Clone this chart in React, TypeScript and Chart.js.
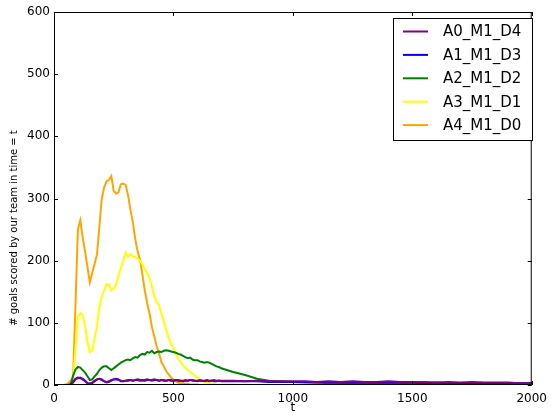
import React, { useEffect, useRef } from "react";
import { Chart, registerables } from "chart.js";

Chart.register(...registerables);

const T = [
  0, 10, 20, 30, 40, 50, 60, 70, 80, 90,
  100, 110, 120, 130, 140, 150, 160, 170, 180, 190,
  200, 210, 220, 230, 240, 250, 260, 270, 280, 290,
  300, 310, 320, 330, 340, 350, 360, 370, 380, 390,
  400, 410, 420, 430, 440, 450, 460, 470, 480, 490,
  500, 510, 520, 530, 540, 550, 560, 570, 580, 590,
  600, 610, 620, 630, 640, 650, 660, 670, 680, 690,
  700,
  750, 800, 850, 900, 950, 1000, 1050, 1100, 1150, 1200, 1250, 1300, 1350,
  1400, 1450, 1500, 1550, 1600, 1650, 1700, 1750, 1800, 1850, 1900, 1950, 2000,
];

const A0_M1_D4 = [
  0, 0, 0, 0, 0, 0, 0, 1, 4, 9,
  11, 12, 9, 6, 3, 2, 4, 7, 9, 10,
  8, 6, 5, 6, 8, 9, 9, 8, 7, 6,
  7, 8, 8, 7, 8, 9, 8, 7, 8, 9,
  8, 8, 9, 8, 7, 8, 8, 7, 8, 8,
  7, 8, 8, 7, 7, 8, 7, 8, 8, 7,
  7, 8, 7, 7, 8, 7, 7, 8, 7, 7,
  7,
  7, 6, 7, 6, 6, 6, 6, 5, 6, 5, 6, 5, 5, 6, 5, 5, 5, 4, 5, 4, 5, 4, 4, 4, 3, 3,
];

const A1_M1_D3 = [
  0, 0, 0, 0, 0, 0, 0, 1, 5, 10,
  12, 11, 10, 7, 3, 2, 3, 6, 9, 10,
  9, 6, 4, 5, 7, 9, 10, 9, 6, 6,
  7, 7, 8, 7, 8, 8, 7, 8, 7, 8,
  8, 7, 8, 8, 7, 8, 7, 7, 8, 7,
  7, 8, 7, 7, 6, 7, 7, 8, 7, 7,
  6, 7, 7, 6, 7, 6, 7, 6, 6, 7,
  6,
  6, 6, 6, 5, 5, 5, 5, 4, 5, 4, 4, 4, 4, 4, 4, 4, 3, 4, 3, 3, 3, 3, 3, 3, 3, 3,
];

const A2_M1_D2 = [
  0, 0, 0, 0, 0, 0, 0, 1, 15, 25,
  29, 28, 24, 20, 14, 8, 9, 14, 18, 24,
  28, 30, 30, 27, 24, 27, 30, 33, 36, 38,
  40, 41, 40, 43, 45, 44, 48, 50, 49, 53,
  52, 55, 51, 53, 54, 53, 55, 56, 55, 54,
  53, 52, 50, 49, 47, 45, 43, 44, 41, 40,
  40, 38, 37, 36, 37, 36, 34, 32, 30, 29,
  27,
  21, 16, 10, 7, 6, 5, 4, 4, 3, 3, 2, 2, 2, 2, 2, 2, 1, 2, 1, 1, 2, 1, 1, 1, 1, 1,
];

const A3_M1_D1 = [
  0, 0, 0, 0, 0, 0, 0, 1, 5, 60,
  110, 116, 112, 95, 70, 53, 55, 75, 95, 125,
  142, 152, 162, 162, 152, 155, 162, 176, 188, 200,
  213, 206, 210, 207, 206, 203, 200, 194, 186, 180,
  172, 158, 142, 134, 128, 114, 102, 88, 76, 66,
  60, 50, 42, 37, 32, 28, 24, 21, 18, 15,
  12, 9, 7, 5, 4, 3, 2, 2, 1, 1,
  1,
  1, 0, 0, 0, 0, 0, 0, 0, 0, 0, 0, 0, 0, 0, 0, 0, 0, 0, 0, 0, 0, 0, 0, 0, 0, 0,
];

const A4_M1_D0 = [
  0, 0, 0, 0, 0, 1, 3, 7, 12, 130,
  250, 265, 238, 215, 190, 165, 180, 195, 210, 255,
  300, 318, 328, 330, 336, 312, 308, 310, 323, 324,
  322, 305, 282, 262, 235, 215, 202, 178, 152, 132,
  115, 93, 78, 62, 50, 37, 30, 22, 17, 12,
  8, 6, 4, 3, 3, 2, 2, 1, 1, 1,
  1, 0, 0, 0, 0, 0, 0, 0, 0, 0,
  0,
  0, 0, 0, 0, 0, 0, 0, 0, 0, 0, 0, 0, 0, 0, 0, 0, 0, 0, 0, 0, 0, 0, 0, 0, 0, 0,
];

const SERIES_NAMES = ["A0_M1_D4", "A1_M1_D3", "A2_M1_D2", "A3_M1_D1", "A4_M1_D0"];
const SERIES_VALUES = [A0_M1_D4, A1_M1_D3, A2_M1_D2, A3_M1_D1, A4_M1_D0];
const SERIES_COLORS = ["#800080", "#0000ff", "#008000", "#ffff00", "#ffa500"];

const X_TICKS = [0, 500, 1000, 1500, 2000];
const Y_TICKS = [0, 100, 200, 300, 400, 500, 600];
const X_TITLE = "t";
const Y_TITLE = "# goals scored by our team in time = t";

const FONT = "'DejaVu Sans', sans-serif";

const decorPlugin = {
  id: "decor",
  afterDatasetsDraw(chart: any) {
    const { ctx, chartArea, scales } = chart;
    const { left, right, top, bottom } = chartArea;
    const xs = scales.x;
    const ys = scales.y;
    ctx.save();
    ctx.strokeStyle = "#000";
    ctx.lineWidth = 1;
    const tl = 4;
    ctx.beginPath();
    X_TICKS.forEach((v) => {
      const px = Math.round(xs.getPixelForValue(v)) + 0.5;
      ctx.moveTo(px, bottom);
      ctx.lineTo(px, bottom - tl);
      ctx.moveTo(px, top);
      ctx.lineTo(px, top + tl);
    });
    Y_TICKS.forEach((v) => {
      const py = Math.round(ys.getPixelForValue(v)) + 0.5;
      ctx.moveTo(left, py);
      ctx.lineTo(left + tl, py);
      ctx.moveTo(right, py);
      ctx.lineTo(right - tl, py);
    });
    ctx.stroke();
    ctx.strokeRect(left + 0.5, top + 0.5, right - left - 1, bottom - top - 1);

    // legend
    const lx = 393.5, ly = 18.5, lw = 139, lh = 122;
    ctx.fillStyle = "#fff";
    ctx.fillRect(lx, ly, lw, lh);
    ctx.strokeStyle = "#000";
    ctx.strokeRect(lx, ly, lw, lh);
    ctx.font = `15px ${FONT}`;
    ctx.textBaseline = "middle";
    ctx.textAlign = "left";
    SERIES_NAMES.forEach((name, i) => {
      const ry = 31.5 + i * 23.4;
      ctx.strokeStyle = SERIES_COLORS[i];
      ctx.lineWidth = 2;
      ctx.beginPath();
      ctx.moveTo(403, ry);
      ctx.lineTo(428, ry);
      ctx.stroke();
      ctx.fillStyle = "#000";
      ctx.fillText(name, 443, ry + 1);
    });

    // axis titles
    ctx.fillStyle = "#000";
    ctx.font = `12px ${FONT}`;
    ctx.textAlign = "center";
    ctx.textBaseline = "middle";
    ctx.fillText(X_TITLE, (left + right) / 2, 408);
    ctx.save();
    ctx.translate(14, 228);
    ctx.rotate(-Math.PI / 2);
    ctx.font = `10px ${FONT}`;
    ctx.fillText(Y_TITLE, 0, 0);
    ctx.restore();
    ctx.restore();
  },
};

export default function App() {
  const ref = useRef<HTMLCanvasElement | null>(null);
  useEffect(() => {
    if (!ref.current) return;
    const chart = new Chart(ref.current, {
      type: "line",
      data: {
        datasets: SERIES_NAMES.map((name, i) => ({
          label: name,
          data: T.map((t, j) => ({ x: t, y: SERIES_VALUES[i][j] })),
          borderColor: SERIES_COLORS[i],
          backgroundColor: SERIES_COLORS[i],
          borderWidth: 2,
          pointRadius: 0,
          tension: 0,
          fill: false,
        })),
      },
      options: {
        animation: false,
        responsive: false,
        maintainAspectRatio: false,
        layout: { padding: { left: 0, top: 12, right: 16, bottom: 0 } },
        plugins: { legend: { display: false }, tooltip: { enabled: false } },
        scales: {
          x: {
            type: "linear",
            min: 0,
            max: 2000,
            afterBuildTicks: (s: any) => {
              s.ticks = X_TICKS.map((v) => ({ value: v }));
            },
            afterFit: (s: any) => {
              s.height = 32;
            },
            grid: { display: false, drawTicks: false },
            border: { display: false },
            ticks: {
              color: "#000",
              font: { family: FONT, size: 12 },
              padding: 7,
              maxRotation: 0,
              callback: (v: any) => String(v),
            },
          },
          y: {
            type: "linear",
            min: 0,
            max: 600,
            afterBuildTicks: (s: any) => {
              s.ticks = Y_TICKS.map((v) => ({ value: v }));
            },
            afterFit: (s: any) => {
              s.width = 54;
            },
            grid: { display: false, drawTicks: false },
            border: { display: false },
            ticks: {
              color: "#000",
              font: { family: FONT, size: 12 },
              padding: 4,
              callback: (v: any) => String(v),
            },
          },
        },
      },
      plugins: [decorPlugin],
    });
    return () => chart.destroy();
  }, []);
  return (
    <div style={{ position: "fixed", left: 0, top: 0, width: 554, height: 417, background: "#fff" }}>
      <canvas ref={ref} width={554} height={417} style={{ width: 554, height: 417, display: "block" }} />
    </div>
  );
}
